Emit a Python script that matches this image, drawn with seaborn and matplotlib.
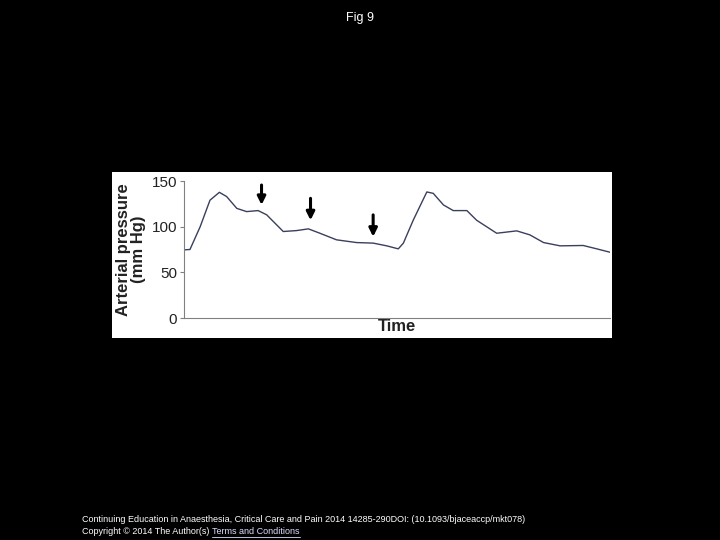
import numpy as np
import pandas as pd
import seaborn as sns
import matplotlib.pyplot as plt

time = [0, 1.4, 3.8, 6.1, 8.3, 10, 12.4, 14.7, 17.4, 19.4, 23.3, 26.4, 29.2, 31.9,
        35.8, 40.5, 44.4, 47.6, 50.3, 51.5, 53.8, 57, 58.5, 60.9, 63.2, 66.4, 68.7,
        73.4, 78.1, 81.2, 84.4, 88.3, 93.7, 96.9, 100]
pressure = [74.6, 75, 100, 129, 137.6, 133, 120, 116.5, 117.6, 113, 94.7, 95.7, 97.6, 92.8,
            85.6, 82.6, 82, 79, 75.7, 82, 107, 138, 136.5, 123.8, 117.6, 117.6, 107,
            92.8, 95.4, 91, 82.6, 79, 79.4, 75.7, 72]
arrow_x = [18.2, 29.7, 44.4]
arrow_top = [145.6, 131, 112.9]
arrow_tip = [123.8, 107, 89]
yticks = [0, 50, 100, 150]

df = pd.DataFrame({"Time": time, "Pressure": pressure})

sns.set_style("white")
plt.rcParams['font.family'] = ['Liberation Sans', 'DejaVu Sans']
fig = plt.figure(figsize=(7.2, 5.4), dpi=100, facecolor="black")
bg = fig.add_axes([112/720, 1-338/540, 500/720, 166/540])
bg.set_facecolor("white")
bg.set_xticks([]); bg.set_yticks([])
for s in bg.spines.values():
    s.set_visible(False)

ax = fig.add_axes([184/720, 222/540, 426/720, 137/540])
ax.patch.set_alpha(0)
sns.lineplot(data=df, x="Time", y="Pressure", ax=ax, color="#3a3f5c", linewidth=1)
for xa, t0, t1 in zip(arrow_x, arrow_top, arrow_tip):
    ax.annotate("", xy=(xa, t1), xytext=(xa, t0),
                arrowprops=dict(arrowstyle="-|>", color="black", lw=2.2, mutation_scale=12,
                                shrinkA=0, shrinkB=0))
ax.set_xlim(0, 100)
ax.set_ylim(0, 150)
ax.set_yticks(yticks)
ax.set_xticks([])
ax.tick_params(axis="y", labelsize=11, length=3, left=True, color="gray", pad=2, labelcolor="#222222")
for s in ["top", "right"]:
    ax.spines[s].set_visible(False)
for s in ["left", "bottom"]:
    ax.spines[s].set_color("gray")
    ax.spines[s].set_linewidth(0.8)
ax.set_ylabel("Arterial pressure\n(mm Hg)", fontsize=12, fontweight="bold", labelpad=4,
              linespacing=1.0, color="#222222")
ax.set_xlabel("Time", fontsize=12, fontweight="bold", labelpad=1, color="#222222")

fig.text(0.5, 1-18/540, "Fig 9", color="white", ha="center", va="center", fontsize=9)
fig.text(82/720, 1-520/540,
         "Continuing Education in Anaesthesia, Critical Care and Pain 2014 14285-290DOI: (10.1093/bjaceaccp/mkt078)",
         color="white", fontsize=6.5, va="center")
fig.text(82/720, 1-532/540, "Copyright © 2014 The Author(s)", color="white", fontsize=6.5, va="center")
fig.text(212/720, 1-532/540, "Terms and Conditions", color="#ddddff", fontsize=6.5, va="center")
fig.add_artist(plt.Line2D([212/720, 300/720], [1-537/540, 1-537/540], color="#ddddff", lw=0.6))

fig.savefig("out.png", dpi=100, facecolor="black")
